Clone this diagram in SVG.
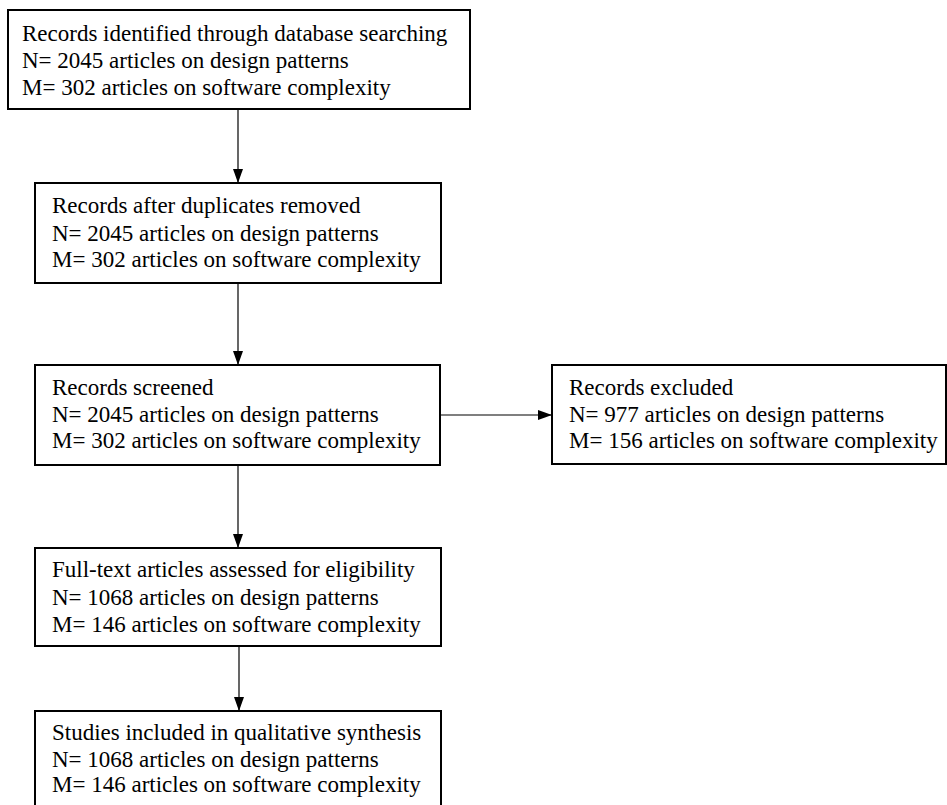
<svg xmlns="http://www.w3.org/2000/svg" width="947" height="805" viewBox="0 0 947 805">
<style>
.box{fill:#fff;stroke:#000;stroke-width:2}
.t{font-family:"Liberation Serif","Times New Roman",serif;font-size:23px;fill:#000}
.c{stroke:#000;stroke-width:1.2;fill:none}
</style>
<defs>
<marker id="ah" markerWidth="10" markerHeight="10" refX="10" refY="5" orient="auto" markerUnits="userSpaceOnUse" viewBox="0 0 10 10">
<path d="M0,0 L10,5 L0,10 Z" fill="#000"/>
</marker>
<marker id="av" markerWidth="14" markerHeight="10" refX="14" refY="5" orient="auto" markerUnits="userSpaceOnUse" viewBox="0 0 14 10">
<path d="M0,0 L14,5 L0,10 Z" fill="#000"/>
</marker>
</defs>
<rect width="947" height="805" fill="#fff"/>
<g id="connectors">
<path class="c" d="M238,109 V183" marker-end="url(#av)"/>
<path class="c" d="M238,283 V365" marker-end="url(#av)"/>
<path class="c" d="M440,415 H552" marker-end="url(#av)"/>
<path class="c" d="M238,465 V548" marker-end="url(#av)"/>
<path class="c" d="M239,646 V711" marker-end="url(#av)"/>
</g>
<g id="identified">
<rect class="box" x="8" y="10" width="462" height="99"/>
<text class="t" x="22" y="41">Records identified through database searching</text>
<text class="t" x="22" y="68">N= 2045 articles on design patterns</text>
<text class="t" x="22" y="95">M= 302 articles on software complexity</text>
</g>
<g id="deduplicated">
<rect class="box" x="35" y="183" width="406" height="100"/>
<text class="t" x="52" y="213">Records after duplicates removed</text>
<text class="t" x="52" y="241">N= 2045 articles on design patterns</text>
<text class="t" x="52" y="267">M= 302 articles on software complexity</text>
</g>
<g id="screened">
<rect class="box" x="35" y="365" width="405" height="100"/>
<text class="t" x="52" y="395">Records screened</text>
<text class="t" x="52" y="422">N= 2045 articles on design patterns</text>
<text class="t" x="52" y="448">M= 302 articles on software complexity</text>
</g>
<g id="excluded">
<rect class="box" x="552" y="365" width="394" height="99"/>
<text class="t" x="569" y="395">Records excluded</text>
<text class="t" x="569" y="422">N= 977 articles on design patterns</text>
<text class="t" x="569" y="448">M= 156 articles on software complexity</text>
</g>
<g id="eligibility">
<rect class="box" x="35" y="548" width="406" height="98"/>
<text class="t" x="52" y="577">Full-text articles assessed for eligibility</text>
<text class="t" x="52" y="605">N= 1068 articles on design patterns</text>
<text class="t" x="52" y="632">M= 146 articles on software complexity</text>
</g>
<g id="included">
<rect class="box" x="35" y="711" width="406" height="100"/>
<text class="t" x="52" y="740">Studies included in qualitative synthesis</text>
<text class="t" x="52" y="767">N= 1068 articles on design patterns</text>
<text class="t" x="52" y="792">M= 146 articles on software complexity</text>
</g>
</svg>
